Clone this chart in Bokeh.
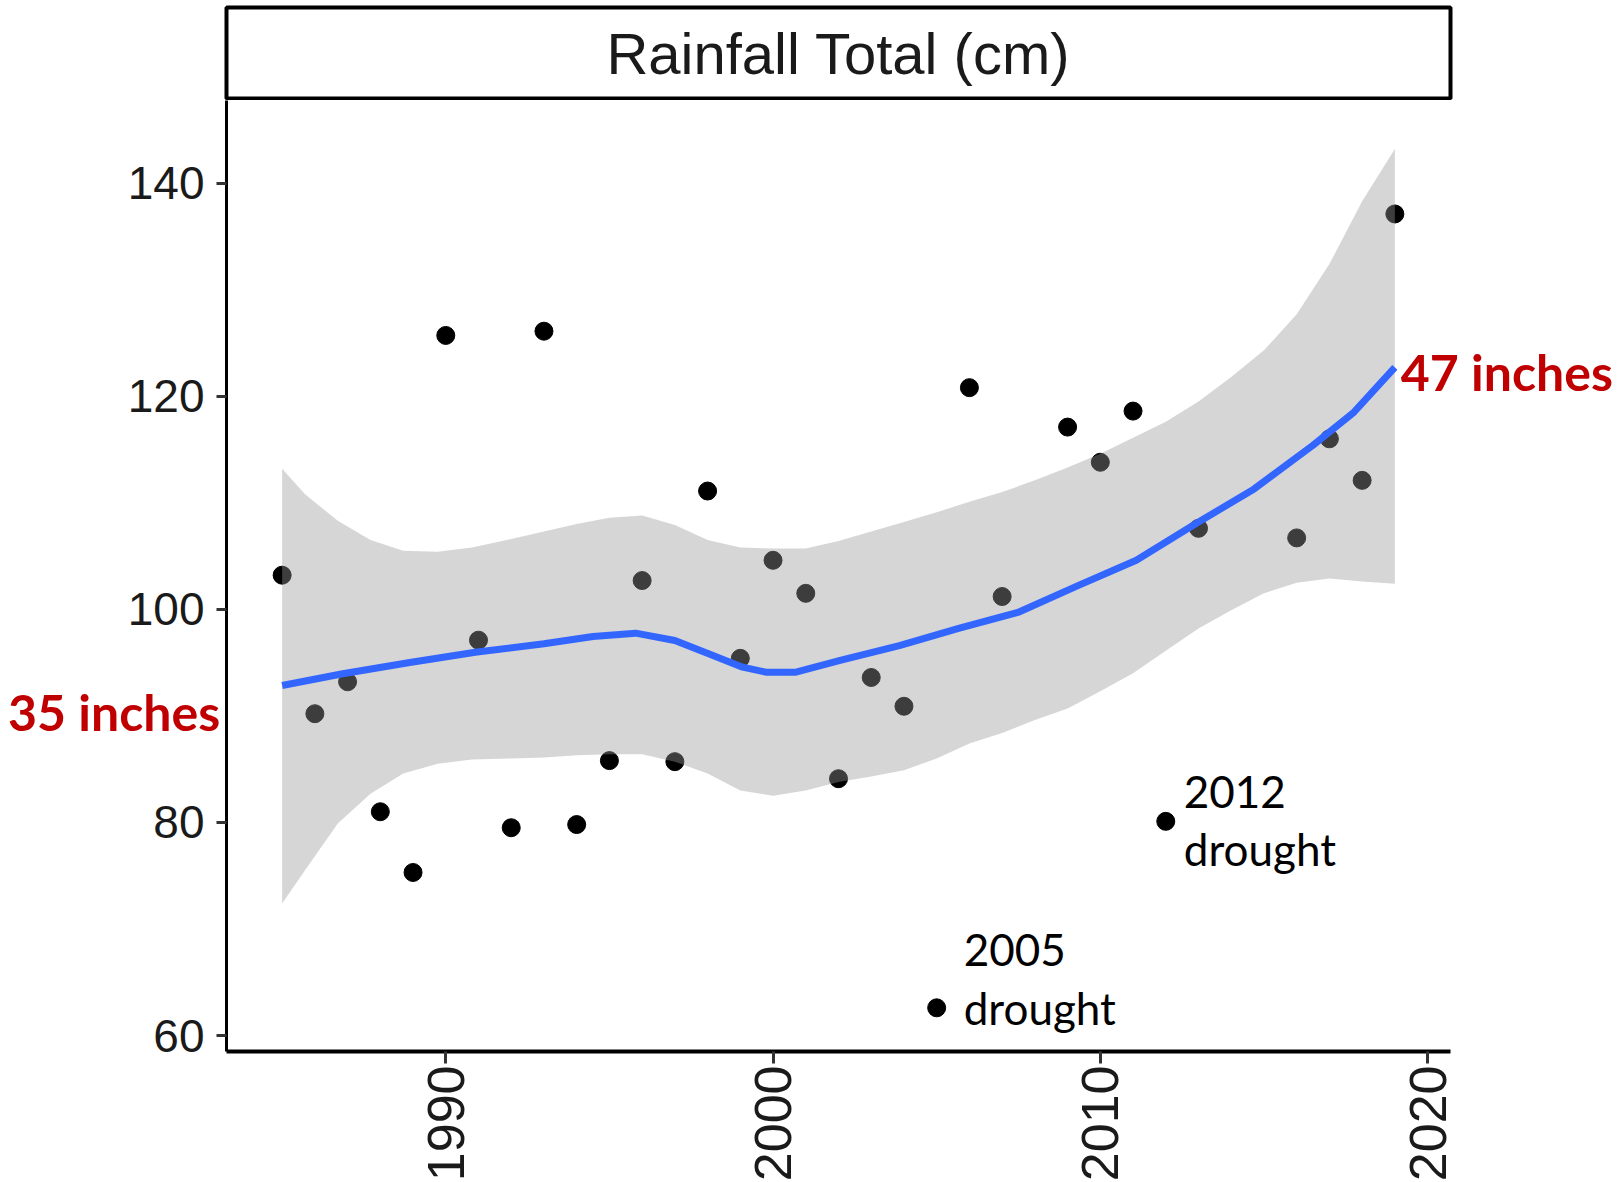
from bokeh.plotting import figure
from bokeh.models import Label, FixedTicker, Range1d
from bokeh.layouts import column
from bokeh.core.properties import value
from bokeh.embed import file_html
from bokeh.resources import INLINE
from math import pi

# ---------------- data ----------------
years = [1985, 1986, 1987, 1988, 1989, 1990, 1991, 1992, 1993, 1994, 1995, 1996,
         1997, 1998, 1999, 2000, 2001, 2002, 2003, 2004, 2005, 2006, 2007,
         2009, 2010, 2011, 2012, 2013, 2016, 2017, 2018, 2019]
rain_cm = [103.2, 90.2, 93.2, 81.0, 75.3, 125.7, 97.1, 79.5, 126.1, 79.8, 85.8, 102.7,
           85.7, 111.1, 95.4, 104.6, 101.5, 84.1, 93.6, 90.9, 62.6, 120.8, 101.2,
           117.1, 113.8, 118.6, 80.1, 107.6, 106.7, 116.0, 112.1, 137.1]

# smoothed trend
fit_x = [1985.0, 1986.85, 1988.9, 1990.9, 1993.0, 1994.5, 1995.8, 1997.0, 1998.05, 1999.07,
         1999.78, 2000.7, 2002.05, 2003.86, 2005.67, 2007.48, 2009.3, 2011.1, 2012.9, 2014.7,
         2016.5, 2017.75, 2019.0]
fit_cm = [92.85, 93.95, 95.0, 95.97, 96.76, 97.45, 97.76, 97.07, 95.8, 94.57,
          94.1, 94.1, 95.2, 96.6, 98.2, 99.7, 102.2, 104.6, 108.0, 111.3,
          115.4, 118.5, 122.7]

# confidence band
band_x = [1985.0, 1985.7, 1986.7, 1987.7, 1988.7, 1989.75, 1990.8, 1992, 1993, 1994, 1995,
          1996, 1997, 1998, 1999, 2000, 2001, 2002, 2003, 2004, 2005, 2006, 2007, 2008,
          2009, 2010, 2011, 2012, 2013, 2014, 2015, 2016, 2017, 2018, 2019]
band_lower = [72.4, 75.5, 79.9, 82.7, 84.6, 85.5, 85.9, 86.0, 86.1, 86.3, 86.4,
              86.4, 85.7, 84.6, 83.0, 82.5, 83.0, 83.8, 84.3, 84.9, 86.0, 87.4, 88.4, 89.6,
              90.7, 92.3, 94.0, 96.1, 98.2, 99.9, 101.5, 102.5, 102.9, 102.6, 102.4]
band_upper = [113.2, 110.8, 108.3, 106.5, 105.5, 105.4, 105.8, 106.6, 107.3, 108.0, 108.6,
              108.8, 107.9, 106.5, 105.8, 105.7, 105.7, 106.4, 107.3, 108.2, 109.1, 110.1, 111.0, 112.1,
              113.3, 114.6, 116.1, 117.6, 119.5, 121.8, 124.3, 127.7, 132.4, 138.3, 143.2]

x_ticks = [1990, 2000, 2010, 2020]
y_ticks = [60, 80, 100, 120, 140]
title_text = "Rainfall Total (cm)"
start_label = "35 inches"
end_label = "47 inches"
drought_years = [2005, 2012]

# ---------------- strip (facet title) ----------------
strip = figure(frame_width=1224, frame_height=91, min_border_left=226, min_border_right=168,
               min_border_top=7, min_border_bottom=2, x_range=Range1d(0, 1), y_range=Range1d(0, 1),
               x_axis_location=None, y_axis_location=None, toolbar_location=None,
               output_backend="svg", title=None)
strip.grid.visible = False
strip.outline_line_color = "black"
strip.outline_line_width = 4
strip.background_fill_color = "white"
strip.border_fill_color = "white"
strip.add_layout(Label(x=0.5, y=0.5, text=title_text, text_align="center", text_baseline="middle",
                       text_font="Liberation Sans", text_font_size="58px", text_color="#1a1a1a"))

# ---------------- main panel ----------------
p = figure(frame_width=1224, frame_height=951, min_border_left=226, min_border_right=168,
           min_border_top=0, min_border_bottom=131,
           x_range=Range1d(1983.3, 2020.7), y_range=Range1d(58.5, 147.75),
           toolbar_location=None, output_backend="svg", title=None)
p.grid.visible = False
p.outline_line_color = None
p.background_fill_color = "white"
p.border_fill_color = "white"

p.scatter(years, rain_cm, size=18, color="black")
p.varea(x=band_x, y1=band_lower, y2=band_upper, fill_color="#999999", fill_alpha=0.4)
p.line(fit_x, fit_cm, line_color="#3366FF", line_width=7, line_join="round")

p.xaxis.ticker = FixedTicker(ticks=x_ticks)
p.yaxis.ticker = FixedTicker(ticks=y_ticks)
p.xaxis.major_label_orientation = pi / 2
for ax in (p.xaxis[0], p.yaxis[0]):
    ax.axis_line_color = "black"
    ax.axis_line_width = 3
    ax.major_tick_line_color = "#333333"
    ax.major_tick_line_width = 3
    ax.major_tick_in = 0
    ax.minor_tick_line_color = None
    ax.major_label_text_font = "Liberation Sans"
    ax.major_label_text_color = "#1a1a1a"
p.xaxis.axis_line_width = 4
p.xaxis.major_tick_out = 12
p.yaxis.major_tick_out = 10
p.xaxis.major_label_standoff = 2
p.yaxis.major_label_standoff = 12
p.xaxis.major_label_text_font_size = "52px"
p.yaxis.major_label_text_font_size = "46px"

# red labels at the two ends of the trend line (overlay level: not clipped to the frame)
p.text(x=[fit_x[0]], y=[fit_cm[0]], text=[start_label], x_offset=-62, y_offset=27,
       text_align="right", text_baseline="middle", text_font=value("Lato"),
       text_font_style="bold", text_font_size="50px", text_color="#C00000", level="overlay")
p.text(x=[fit_x[-1]], y=[fit_cm[-1]], text=[end_label], x_offset=6, y_offset=5,
       text_align="left", text_baseline="middle", text_font=value("Lato"),
       text_font_style="bold", text_font_size="50px", text_color="#C00000", level="overlay")

i12 = years.index(drought_years[1])
p.add_layout(Label(x=years[i12], y=rain_cm[i12], x_offset=18, y_offset=29, text="2012",
                   text_align="left", text_baseline="middle", text_font="Lato",
                   text_font_size="44px", text_color="black"))
p.add_layout(Label(x=years[i12], y=rain_cm[i12], x_offset=18, y_offset=-28, text="drought",
                   text_align="left", text_baseline="middle", text_font="Lato",
                   text_font_size="44px", text_color="black"))
i05 = years.index(drought_years[0])
p.add_layout(Label(x=years[i05], y=rain_cm[i05], x_offset=27, y_offset=58, text="2005",
                   text_align="left", text_baseline="middle", text_font="Lato",
                   text_font_size="44px", text_color="black"))
p.add_layout(Label(x=years[i05], y=rain_cm[i05], x_offset=27, y_offset=0, text="drought",
                   text_align="left", text_baseline="middle", text_font="Lato",
                   text_font_size="44px", text_color="black"))

layout = column(strip, p, spacing=0)
open("out.html", "w").write(file_html(layout, INLINE))
